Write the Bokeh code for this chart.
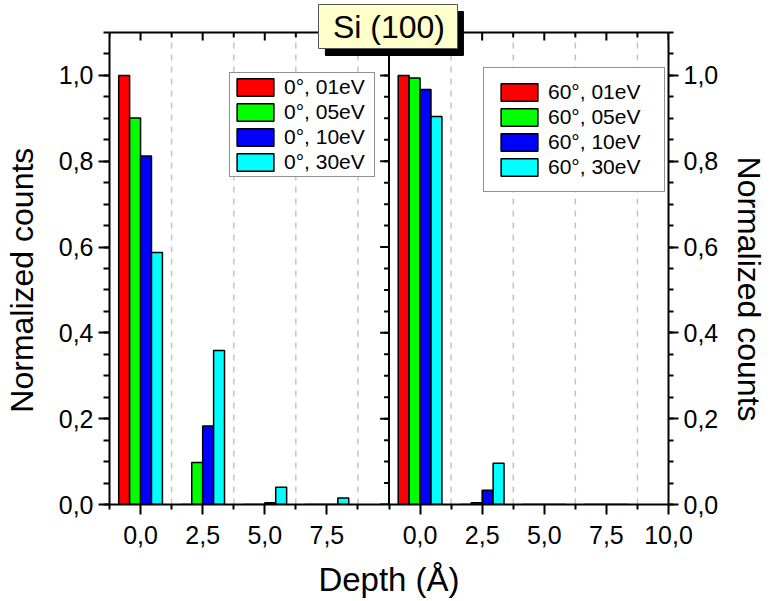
import numpy as np
from bokeh.plotting import figure
from bokeh.models import (Range1d, LinearAxis, FixedTicker, SingleIntervalTicker,
                          CustomJSTickFormatter, Legend, LegendItem,
                          BoxAnnotation, Label, ColumnDataSource)
from bokeh.transform import dodge
from bokeh.embed import file_html
from bokeh.resources import INLINE

# ---------------- data ----------------
depth = [0.0, 2.5, 5.0, 7.5]

labels_left = ["0°, 01eV", "0°, 05eV", "0°, 10eV", "0°, 30eV"]
labels_right = ["60°, 01eV", "60°, 05eV", "60°, 10eV", "60°, 30eV"]

left_01 = [1.000, 0.000, 0.000, 0.000]
left_05 = [0.901, 0.098, 0.000, 0.000]
left_10 = [0.812, 0.183, 0.004, 0.000]
left_30 = [0.587, 0.359, 0.040, 0.015]

right_01 = [1.000, 0.000, 0.000, 0.000]
right_05 = [0.994, 0.004, 0.000, 0.000]
right_10 = [0.967, 0.033, 0.000, 0.000]
right_30 = [0.904, 0.096, 0.000, 0.000]

x_major_ticks = [0.0, 2.5, 5.0, 7.5, 10.0]
title_text = "Si (100)"
x_label = "Depth (Å)"
y_label = "Normalized counts"

# ---------------- styling ----------------
colors = ["#ff0000", "#00ff00", "#0000ff", "#00ffff"]
bar_offsets = [-0.66, -0.22, 0.22, 0.66]
bar_width = 0.44
x_min, x_max = -1.25, 10.0
panel_shift = x_max - x_min
y_min, y_max = 0.0, 1.1
FONT = "Liberation Sans"
NBSP = "\u00a0"

PLOT_W, PLOT_H = 567, 472          # visible plotting box
HEADROOM = 30                      # frame extends above the box for the title
BL, BT, BR, BB = 108, 32 - HEADROOM, 95, 96
px_x = PLOT_W / (2 * panel_shift)
px_y = PLOT_H / (y_max - y_min)
y_top = y_max + HEADROOM / px_y

def sx(fx):  # figure pixel -> data x (decorations only)
    return x_min + (fx - BL) / px_x

def sy(fy):  # figure pixel -> data y (decorations only)
    return y_max + (32 - fy) / px_y

src = ColumnDataSource(data=dict(depth=depth,
                                 left_01=left_01, left_05=left_05,
                                 left_10=left_10, left_30=left_30,
                                 right_01=right_01, right_05=right_05,
                                 right_10=right_10, right_30=right_30))

p = figure(width=BL + PLOT_W + BR, height=BT + PLOT_H + HEADROOM + BB,
           output_backend="svg", toolbar_location=None,
           x_range=Range1d(x_min, x_max + panel_shift), y_range=Range1d(y_min, y_top),
           min_border_left=BL, min_border_right=BR, min_border_top=BT,
           min_border_bottom=BB, background_fill_color="white",
           border_fill_color="white")
p.title.visible = False
p.outline_line_color = None
p.grid.visible = False

# x ticks (two panels on one shared scale)
major = [t for t in x_major_ticks if t < x_max] + [t + panel_shift for t in x_major_ticks]
minor_half = [(a + b) / 2 for a, b in zip(x_major_ticks[:-1], x_major_ticks[1:])]
minor = [x_min] + minor_half + [x_max] + [t + panel_shift for t in minor_half]
grid_x = minor_half + [t + panel_shift for t in minor_half]
xticker = FixedTicker(ticks=major, minor_ticks=minor)
xfmt = CustomJSTickFormatter(args=dict(edge=x_max, shift=panel_shift), code="""
    const v = tick > edge + 1e-6 ? tick - shift : tick;
    return v.toFixed(1).replace('.', ',');
""")
yfmt = CustomJSTickFormatter(code="return tick.toFixed(1).replace('.', ',');")
yticker = SingleIntervalTicker(interval=0.2, num_minor_ticks=4)

def style_axis(ax):
    ax.axis_line_width = 2
    ax.axis_line_color = "black"
    ax.major_tick_line_width = 2
    ax.minor_tick_line_width = 2
    ax.major_tick_line_color = "black"
    ax.minor_tick_line_color = "black"
    ax.major_label_text_font = FONT
    ax.major_label_text_font_size = "25px"
    ax.major_label_text_color = "black"
    ax.axis_label_text_font = FONT
    ax.axis_label_text_font_size = "32px"
    ax.axis_label_text_font_style = "normal"
    ax.axis_label_text_color = "black"

xa = p.xaxis[0]
xa.ticker = xticker
xa.formatter = xfmt
xa.axis_label = x_label
xa.major_tick_out = 10
xa.major_tick_in = 0
xa.minor_tick_out = 5
xa.minor_tick_in = 0
xa.major_label_standoff = 11
xa.axis_label_standoff = 14
style_axis(xa)
xa.axis_label_text_font_size = "33px"

# the frame includes head-room for the title box, so the axis titles are
# nudged down (with non-breaking spaces) to sit centred on the plotting box
ya = p.yaxis[0]
ya.ticker = yticker
ya.formatter = yfmt
ya.bounds = (y_min, y_max)
ya.axis_label = y_label + NBSP * 6
ya.major_tick_out = 11
ya.major_tick_in = 0
ya.minor_tick_out = 6
ya.minor_tick_in = 0
ya.major_label_standoff = 5
ya.axis_label_standoff = 16
style_axis(ya)

yr = LinearAxis(ticker=yticker, formatter=yfmt, bounds=(y_min, y_max),
                axis_label=NBSP * 8 + y_label)
yr.major_tick_out = 10
yr.major_tick_in = 0
yr.minor_tick_out = 5
yr.minor_tick_in = 0
yr.major_label_standoff = 5
yr.axis_label_standoff = 10
style_axis(yr)
p.add_layout(yr, "right")

# dashed vertical grid lines, limited to the plotting box
p.segment(x0=grid_x, x1=grid_x, y0=[y_min] * len(grid_x), y1=[y_max] * len(grid_x),
          line_color="#c4c4c4", line_width=1.5, line_dash="6 6")

# bars
left_keys = ["left_01", "left_05", "left_10", "left_30"]
right_keys = ["right_01", "right_05", "right_10", "right_30"]
left_items, right_items = [], []
for key, col, off, lab in zip(left_keys, colors, bar_offsets, labels_left):
    r = p.vbar(x=dodge("depth", off), top=key, width=bar_width, source=src,
               fill_color=col, line_color="black", line_width=1.5)
    left_items.append(LegendItem(label=lab, renderers=[r]))
for key, col, off, lab in zip(right_keys, colors, bar_offsets, labels_right):
    r = p.vbar(x=dodge("depth", off + panel_shift), top=key, width=bar_width, source=src,
               fill_color=col, line_color="black", line_width=1.5)
    right_items.append(LegendItem(label=lab, renderers=[r]))

# top edge of the box and its inward ticks
p.segment(x0=[x_min], x1=[x_max + panel_shift], y0=[y_max], y1=[y_max],
          line_color="black", line_width=2)
p.segment(x0=major, x1=major, y0=[y_max] * len(major), y1=[y_max - 8 / px_y] * len(major),
          line_color="black", line_width=2)
p.segment(x0=minor, x1=minor, y0=[y_max] * len(minor), y1=[y_max - 5 / px_y] * len(minor),
          line_color="black", line_width=2)

# panel divider with its inward ticks
p.segment(x0=[x_max], x1=[x_max], y0=[y_min], y1=[y_max], line_color="black", line_width=2)
ymaj = np.arange(0.0, 1.0001, 0.2)
ymin_t = np.arange(0.05, 1.1001, 0.05)
p.segment(x0=[x_max - 9 / px_x] * len(ymaj), x1=[x_max] * len(ymaj), y0=ymaj, y1=ymaj,
          line_color="black", line_width=2)
p.segment(x0=[x_max - 5 / px_x] * len(ymin_t), x1=[x_max] * len(ymin_t), y0=ymin_t, y1=ymin_t,
          line_color="black", line_width=2)

def make_legend(items, loc, pad, lw):
    return Legend(items=items, location=loc, padding=pad, spacing=1,
                  glyph_width=46, glyph_height=22, label_height=22, label_width=lw,
                  label_standoff=6, label_text_font=FONT,
                  label_text_font_size="21px", label_text_color="black",
                  border_line_color="#222222", border_line_width=1,
                  background_fill_color="white", background_fill_alpha=1,
                  margin=0)

p.add_layout(make_legend(left_items, (120, 327), 2, 88))
p.add_layout(make_legend(right_items, (374, 312), 12, 104))

# title box with shadow
p.add_layout(BoxAnnotation(left=sx(327), right=sx(467), top=sy(11), bottom=sy(55),
                           fill_color="black", fill_alpha=1, line_color="black",
                           line_alpha=1))
p.add_layout(BoxAnnotation(left=sx(320), right=sx(461), top=sy(4), bottom=sy(48),
                           fill_color="#ffffcc", fill_alpha=1, line_color="#555555",
                           line_width=1, line_alpha=1))
p.add_layout(Label(x=x_max, y=sy(26), text=title_text, text_align="center",
                   text_baseline="middle", text_font=FONT, text_font_size="32px",
                   text_color="black"))

open("out.html", "w").write(file_html(p, INLINE))
